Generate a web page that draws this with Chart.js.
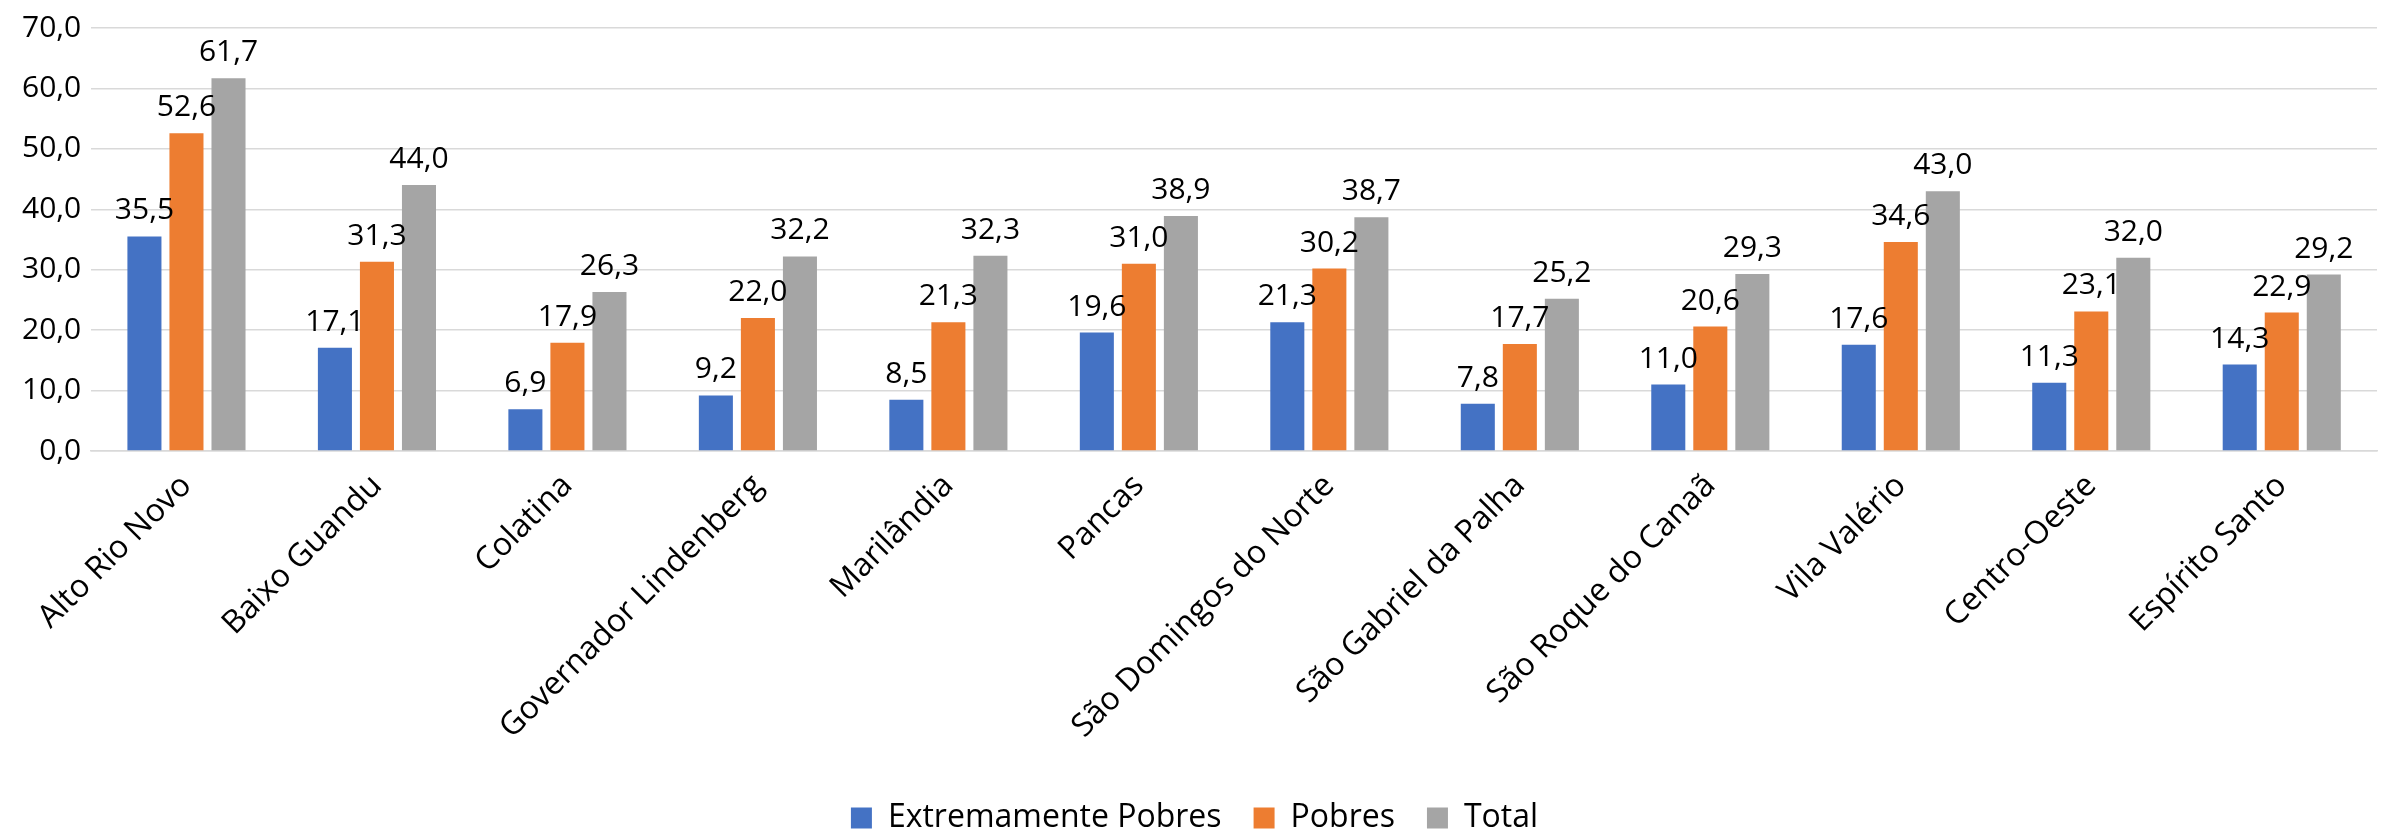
<!DOCTYPE html>
<html>
<head>
<meta charset="utf-8">
<script src="https://cdn.jsdelivr.net/npm/chart.js@4"></script>
<style>
  html, body { margin: 0; padding: 0; background: #fff; overflow: hidden; }
  #wrap { width: 2393px; height: 834px; position: relative; }
</style>
</head>
<body>
<div id="wrap"><canvas id="grafico"></canvas></div>
<script>
// Dados
const municipios = ['Alto Rio Novo', 'Baixo Guandu', 'Colatina', 'Governador Lindenberg', 'Marilândia',
    'Pancas', 'São Domingos do Norte', 'São Gabriel da Palha', 'São Roque do Canaã', 'Vila Valério',
    'Centro-Oeste', 'Espírito Santo'];
const extremamentePobres = [35.5, 17.1, 6.9, 9.2, 8.5, 19.6, 21.3, 7.8, 11.0, 17.6, 11.3, 14.3];
const pobres = [52.6, 31.3, 17.9, 22.0, 21.3, 31.0, 30.2, 17.7, 20.6, 34.6, 23.1, 22.9];
const total = [61.7, 44.0, 26.3, 32.2, 32.3, 38.9, 38.7, 25.2, 29.3, 43.0, 32.0, 29.2];
const yMax = 70;
const yStep = 10;

const fonte = '"Open Sans", "Noto Sans", sans-serif';
const fmt = v => v.toFixed(1).replace('.', ',');

// Plugin simples para rótulos de valor acima das barras
const rotulos = {
    id: 'rotulos',
    afterDatasetsDraw(chart) {
        const ctx = chart.ctx;
        ctx.save();
        ctx.font = '30px ' + fonte;
        ctx.fillStyle = '#000';
        ctx.textAlign = 'center';
        ctx.textBaseline = 'alphabetic';
        chart.data.datasets.forEach((ds, i) => {
            chart.getDatasetMeta(i).data.forEach((bar, j) => {
                ctx.fillText(fmt(ds.data[j]), bar.x, bar.y - 17);
            });
        });
        ctx.restore();
    }
};

const ctx = document.getElementById('grafico').getContext('2d');
new Chart(ctx, {
    type: 'bar',
    data: {
        labels: municipios,
        datasets: [
            { label: 'Extremamente Pobres', data: extremamentePobres, backgroundColor: '#4472C4' },
            { label: 'Pobres', data: pobres, backgroundColor: '#ED7D31' },
            { label: 'Total', data: total, backgroundColor: '#A5A5A5' }
        ]
    },
    options: {
        responsive: true,
        maintainAspectRatio: false,
        animation: false,
        datasets: {
            bar: { categoryPercentage: 0.662, barPercentage: 0.81 }
        },
        layout: { padding: { top: 10, right: 16, left: 12, bottom: -10 } },
        plugins: {
            legend: {
                position: 'bottom',
                labels: {
                    font: { family: fonte, size: 32 },
                    color: '#000',
                    boxWidth: 21,
                    boxHeight: 21,
                    padding: 32
                }
            },
            tooltip: { enabled: false }
        },
        scales: {
            y: {
                min: 0,
                max: yMax,
                ticks: {
                    stepSize: yStep,
                    callback: v => fmt(v),
                    font: { family: fonte, size: 30 },
                    color: '#000',
                    padding: 10
                },
                grid: { color: '#d9d9d9', lineWidth: 1.5, drawTicks: false },
                border: { display: false }
            },
            x: {
                ticks: {
                    minRotation: 45,
                    maxRotation: 45,
                    font: { family: fonte, size: 32 },
                    color: '#000',
                    padding: 8
                },
                afterFit: scale => { scale.height = 319; },
                grid: { display: false },
                border: { color: '#d9d9d9', width: 1.5 }
            }
        }
    },
    plugins: [rotulos]
});
</script>
</body>
</html>
